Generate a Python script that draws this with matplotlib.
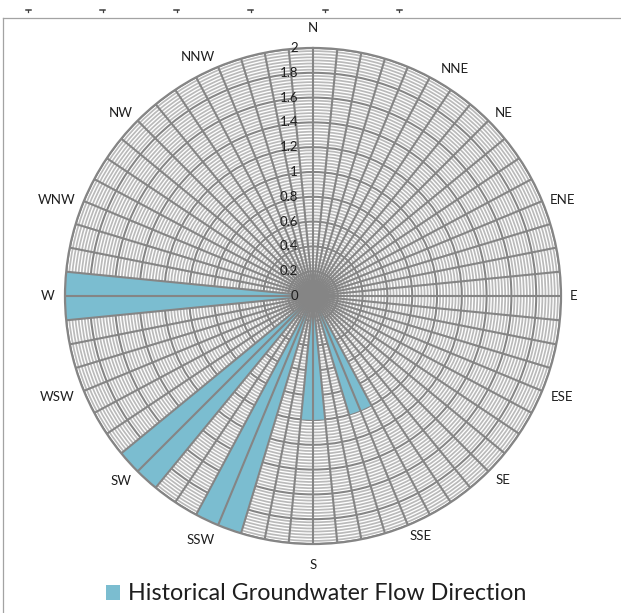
import numpy as np
import matplotlib
matplotlib.use("Agg")
import matplotlib.pyplot as plt
from matplotlib.patches import Patch
from matplotlib.lines import Line2D
from matplotlib.transforms import ScaledTranslation

plt.rcParams["font.family"] = ["Lato", "DejaVu Sans"]

# 16 compass points, each followed by three unlabeled spokes (64 categories)
directions = ["N", "NNE", "NE", "ENE", "E", "ESE", "SE", "SSE",
              "S", "SSW", "SW", "WSW", "W", "WNW", "NW", "NNW"]
categories = []
for d in directions:
    categories += [d, "", "", ""]

# flow-direction frequency per spoke
values = [
    0, 0, 0, 0, 0, 0, 0, 0,   # N .. NE-
    0, 0, 0, 0, 0, 0, 0, 0,   # NE .. E-
    0, 0, 0, 0, 0, 0, 0, 0,   # E .. SE-
    0, 0, 0, 1, 1, 1, 0, 1,   # SE .. S-
    1, 1, 0, 2, 2, 2, 0, 2,   # S .. SW-
    2, 2, 0, 0, 0, 0, 0, 2,   # SW .. W-
    2, 2, 0, 0, 0, 0, 0, 0,   # W .. NW-
    0, 0, 0, 0, 0, 0, 0, 0,   # NW .. N-
]

series_name = "Historical Groundwater Flow Direction"
r_max = 2.0
major_ticks = [0, 0.2, 0.4, 0.6, 0.8, 1.0, 1.2, 1.4, 1.6, 1.8, 2.0]
tick_labels = ["0", "0.2", "0.4", "0.6", "0.8", "1", "1.2", "1.4", "1.6", "1.8", "2"]

# where each compass label sits: (bearing in degrees, distance from centre in px)
label_place = {
    "N": (0, 268), "NNE": (32.0, 268), "NE": (46.2, 264.5), "ENE": (68.9, 267),
    "E": (90, 260.5), "ESE": (112.1, 268.5), "SE": (134.1, 264.5), "SSE": (155.8, 263.5),
    "S": (180, 269), "SSW": (204.7, 268.5), "SW": (226.1, 266.5), "WSW": (248.5, 275),
    "W": (270, 265), "WNW": (290.6, 273.5), "NW": (313.6, 265), "NNW": (334.3, 265),
}

fill_color = "#7bbdd0"
grid_dark = "#858585"
grid_light = "#bababa"
text_color = "#1e1e1e"

W, H, DPI = 621, 613, 100
fig = plt.figure(figsize=(W / DPI, H / DPI), dpi=DPI)
fig.patch.set_facecolor("white")

cx, cy, R = 313, 296, 248
ax = fig.add_axes([(cx - R) / W, (H - cy - R) / H, 2 * R / W, 2 * R / H],
                  projection="polar")
ax.set_theta_zero_location("N")
ax.set_theta_direction(-1)
ax.set_ylim(0, r_max)
ax.set_facecolor("white")

# radial grid: dark major rings, light minor rings
ax.set_xticks([])
ax.set_yticks(major_ticks[1:])
ax.set_yticklabels([])
minor = [m for m in np.arange(0.025, r_max, 0.025)
         if abs(m / 0.2 - round(m / 0.2)) > 1e-6]
ax.set_yticks(minor, minor=True)
ax.yaxis.grid(True, which="major", color=grid_dark, lw=1.5)
ax.yaxis.grid(True, which="minor", color=grid_light, lw=1.25)
ax.tick_params(axis="y", which="both", length=0)
ax.spines["polar"].set_color(grid_dark)
ax.spines["polar"].set_linewidth(1.6)

theta = np.deg2rad(np.arange(len(categories)) * 360.0 / len(categories))

# filled radar series
ax.fill(np.r_[theta, theta[0]], np.r_[values, values[0]],
        color=fill_color, lw=0, zorder=2)

# category spokes on top of the fill
ax.vlines(theta, 0, r_max, colors=grid_dark, lw=1.5, zorder=3)

# value labels along the north spoke
shift = ScaledTranslation(-15 / DPI, 0, fig.dpi_scale_trans)
for v, lab in zip(major_ticks, tick_labels):
    ax.text(0, v, lab, transform=ax.transData + shift, ha="right",
            va="center", fontsize=9.5, color=text_color, zorder=5)

# compass labels around the rim
for name in categories:
    if name:
        bearing, dist = label_place[name]
        ax.text(np.deg2rad(bearing), r_max * dist / R, name, ha="center",
                va="center", fontsize=9.5, color=text_color)

# chart frame
def px(x, y):
    return x / W, 1 - y / H

fig.add_artist(Line2D(*zip(px(3.3, 17.5), px(W, 17.5)), color="#a3a3a3", lw=0.9))
fig.add_artist(Line2D(*zip(px(3.3, 17.5), px(3.3, H)), color="#a3a3a3", lw=0.9))
for x in [28.3, 102.5, 176.7, 250.9, 325.1, 399.3]:
    fig.add_artist(Line2D(*zip(px(x - 2.5, 9.8), px(x + 2.5, 9.8)), color="#404040", lw=1.1))
    fig.add_artist(Line2D(*zip(px(x, 9.8), px(x, 12)), color="#404040", lw=0.9))

# legend sized to the caption width
renderer = fig.canvas.get_renderer()
probe = fig.text(0, 0, series_name, fontsize=10)
w10 = probe.get_window_extent(renderer).width
probe.remove()
leg_fs = 10 * 397 / w10
fig.legend(handles=[Patch(facecolor=fill_color, label=series_name)],
           loc="center", bbox_to_anchor=(316.5 / W, 1 - 594 / H),
           frameon=False, fontsize=leg_fs, labelcolor=text_color,
           handlelength=10.0 / leg_fs, handleheight=10.0 / leg_fs,
           handletextpad=5.8 / leg_fs, borderpad=0, borderaxespad=0)

fig.savefig("out.png", dpi=DPI, facecolor="white")
